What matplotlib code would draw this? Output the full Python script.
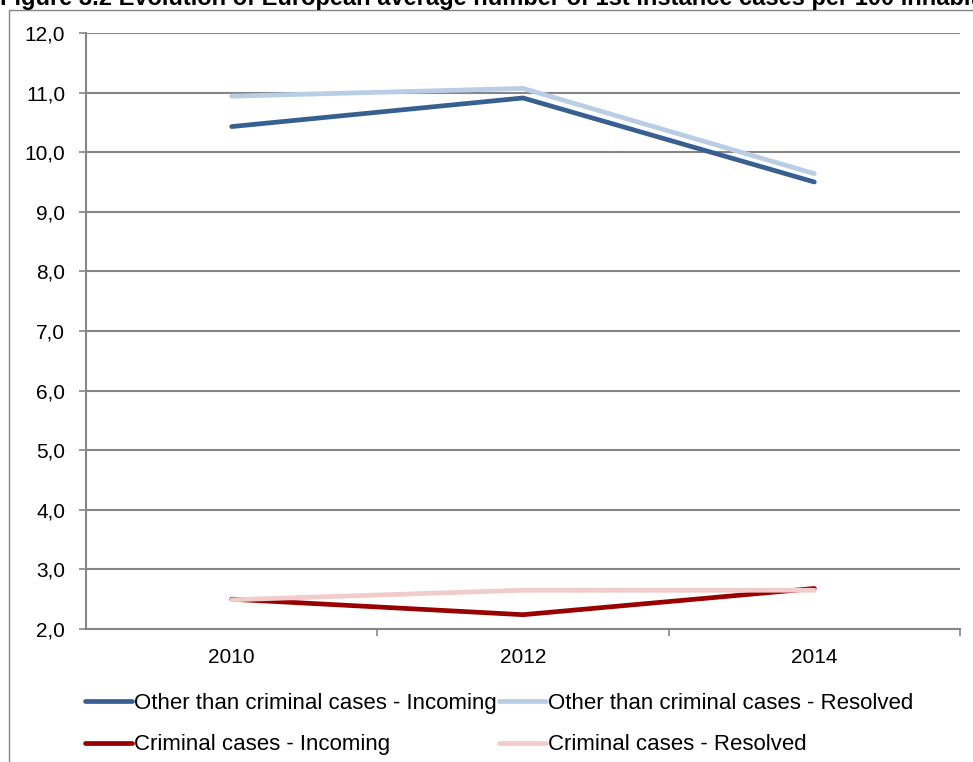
import matplotlib.pyplot as plt
import numpy as np

plt.rcParams['font.family'] = ['Liberation Sans', 'DejaVu Sans']

years = ['2010', '2012', '2014']
other_incoming = [10.43, 10.91, 9.50]
other_resolved = [10.94, 11.07, 9.64]
crim_incoming = [2.50, 2.24, 2.68]
crim_resolved = [2.49, 2.65, 2.65]

fig = plt.figure(figsize=(9.73, 7.62), dpi=100)
W, H = 973, 762
ax = fig.add_axes([86 / W, 1 - 629 / H, (960 - 86) / W, (629 - 33) / H])

# outer chart frame (runs off the right and bottom edge)
fig.patches.append(plt.Rectangle((9 / W, -0.1), 1.2, 1 - 10 / H + 0.1,
                                 transform=fig.transFigure, fill=False,
                                 edgecolor='#868686', linewidth=1))

# title is cropped at the top in the source image
fig.text(0, 1 - 5 / H, 'Figure 3.2 Evolution of European average number of 1st instance cases per 100 inhabitants',
         fontsize=17, fontweight='bold', va='baseline', ha='left')

x = np.arange(len(years))
ax.plot(x, other_incoming, color='#376092', lw=3.4, solid_capstyle='round',
        label='Other than criminal cases - Incoming')
ax.plot(x, other_resolved, color='#B9CDE5', lw=3.4, solid_capstyle='round',
        label='Other than criminal cases - Resolved')
ax.plot(x, crim_incoming, color='#990000', lw=3.4, solid_capstyle='round',
        label='Criminal cases - Incoming')
ax.plot(x, crim_resolved, color='#F2CBCB', lw=3.4, solid_capstyle='round',
        label='Criminal cases - Resolved')

ax.set_xlim(-0.5, 2.5)
ax.set_ylim(2, 12)
ax.set_yticks(np.arange(2, 12.1, 1))
ax.set_yticklabels([('%.1f' % v).replace('.', ',') for v in np.arange(2, 12.1, 1)])
ax.set_xticks(x)
ax.set_xticklabels(years)
ax.set_xticks([0.5, 1.5, 2.5], minor=True)
ax.tick_params(axis='x', which='major', length=0, labelsize=15, pad=14)
ax.tick_params(axis='x', which='minor', length=5, color='#868686', width=1.2)
ax.tick_params(axis='y', length=5, color='#868686', width=1.2, labelsize=15, pad=10)
ax.grid(axis='y', color='#868686', lw=1.5)
ax.set_axisbelow(True)
for s in ['top', 'right']:
    ax.spines[s].set_visible(False)
for s in ['left', 'bottom']:
    ax.spines[s].set_color('#868686')
    ax.spines[s].set_linewidth(1.5)

# legend is filled row by row in the reference
handles, labels = ax.get_legend_handles_labels()
order = [0, 2, 1, 3]
fig.legend([handles[i] for i in order], [labels[i] for i in order],
           loc='upper left', bbox_to_anchor=(65 / W, 1 - 673 / H),
           ncol=2, frameon=False, fontsize=16, handlelength=2.1,
           handletextpad=0.1, columnspacing=0.1, labelspacing=0.92)

fig.savefig('out.png', dpi=100)
